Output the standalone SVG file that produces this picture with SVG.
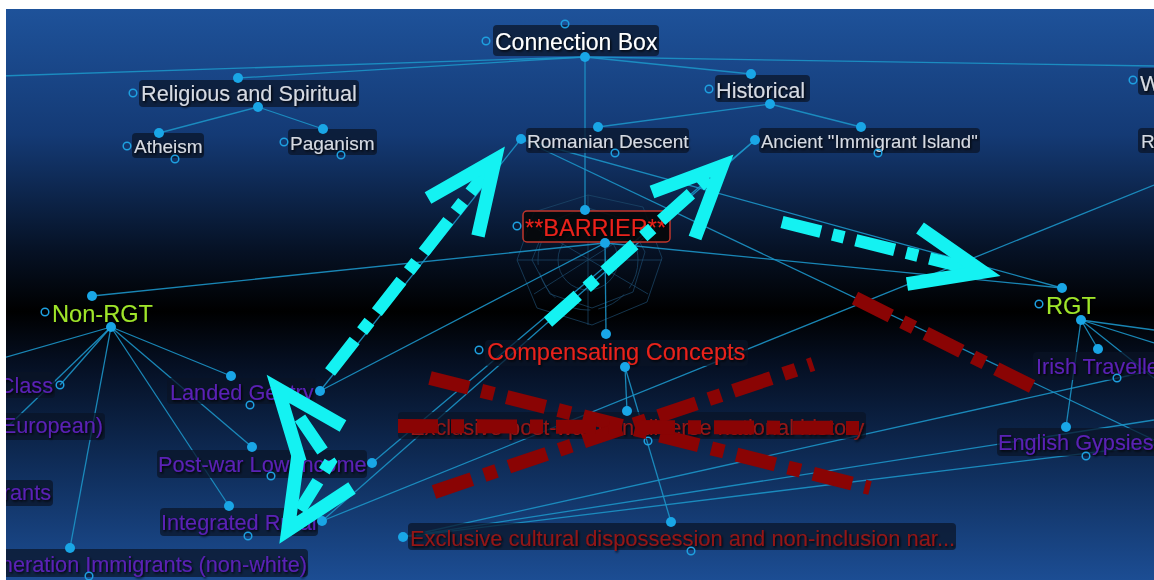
<svg xmlns="http://www.w3.org/2000/svg" width="1154" height="580" viewBox="0 0 1154 580">
  <defs>
    <linearGradient id="bg" x1="0" y1="9" x2="0" y2="580" gradientUnits="userSpaceOnUse">
      <stop offset="0" stop-color="#1e529a"/>
      <stop offset="0.22" stop-color="#143a75"/>
      <stop offset="0.42" stop-color="#061226"/>
      <stop offset="0.53" stop-color="#000000"/>
      <stop offset="0.62" stop-color="#050f22"/>
      <stop offset="0.82" stop-color="#10305f"/>
      <stop offset="1" stop-color="#1c4d93"/>
    </linearGradient>
    <filter id="shadow" x="-5%" y="-20%" width="110%" height="150%">
      <feDropShadow dx="1.2" dy="1.4" stdDeviation="0.9" flood-color="#000000" flood-opacity="0.95"/>
    </filter>
    <style>
      .lbl { font-family: "Liberation Sans", Arial, sans-serif; filter: url(#shadow); }
      .box { fill: #0a1426; fill-opacity: 0.72; }
      .grey { fill: #d6dae2; }
      .white { fill: #ffffff; }
      .purple { fill: #5a20b4; }
      .green { fill: #9fe52a; }
      .red { fill: #e8221a; }
      .dred { fill: #941616; }
      .dot { fill: #19a6e6; }
      .ring { fill: none; stroke: #1ea0e0; stroke-width: 1.5; }
      .link { stroke: #1c93c6; stroke-width: 1.3; fill: none; stroke-opacity: 0.9; }
      .web { stroke: #1d4a6c; stroke-width: 1; fill: none; stroke-opacity: 0.7; }
      .cyan { stroke: #14f2f2; stroke-width: 12.5; fill: none; }
      .cyan-dash { stroke-dasharray: 40 12 12 12; }
      .cyan-head { stroke-width: 13.5; stroke-linejoin: miter; stroke-miterlimit: 10; }
      .maroon { stroke: #8a0404; stroke-width: 14; fill: none; stroke-dasharray: 40 13 13 13; }
      .frame { fill: #ffffff; }
    </style>
  </defs>

  <!-- background -->
  <rect x="0" y="0" width="1154" height="580" fill="url(#bg)"/>

  <!-- faint radial web behind the barrier node -->
  <g id="barrier-web" class="web">
    <circle cx="588" cy="260" r="30"/>
    <circle cx="588" cy="260" r="50" stroke-dasharray="30 8"/>
    <polygon points="588,208 628,220 645,252 633,292 592,308 550,294 532,260 547,222"/>
    <polygon points="588,195 643,207 662,258 647,302 592,325 537,308 517,260 534,212"/>
    <line x1="588" y1="195" x2="588" y2="325"/>
    <line x1="532" y1="226" x2="648" y2="294"/>
    <line x1="534" y1="294" x2="645" y2="224"/>
    <line x1="517" y1="260" x2="662" y2="260"/>
  </g>

  <!-- thin connectors -->
  <g id="connectors">
    <line class="link" x1="0" y1="76" x2="585" y2="57"/>
    <line class="link" x1="238" y1="78" x2="585" y2="57"/>
    <line class="link" x1="585" y1="57" x2="751" y2="74"/>
    <line class="link" x1="585" y1="57" x2="1154" y2="66"/>
    <line class="link" x1="585" y1="57" x2="585" y2="210"/>
    <line class="link" x1="258" y1="107" x2="159" y2="133"/>
    <line class="link" x1="258" y1="107" x2="323" y2="129"/>
    <line class="link" x1="770" y1="104" x2="598" y2="127"/>
    <line class="link" x1="770" y1="104" x2="861" y2="127"/>
    <line class="link" x1="521" y1="139" x2="320" y2="391"/>
    <line class="link" x1="521" y1="139" x2="1062" y2="288"/>
    <line class="link" x1="521" y1="139" x2="1154" y2="440"/>
    <line class="link" x1="605" y1="243" x2="92" y2="296"/>
    <line class="link" x1="605" y1="243" x2="1062" y2="288"/>
    <line class="link" x1="605" y1="243" x2="606" y2="334"/>
    <line class="link" x1="605" y1="243" x2="320" y2="391"/>
    <line class="link" x1="755" y1="140" x2="322" y2="521"/>
    <line class="link" x1="755" y1="140" x2="372" y2="463"/>
    <line class="link" x1="322" y1="521" x2="1154" y2="185"/>
    <line class="link" x1="625" y1="367" x2="627" y2="411"/>
    <line class="link" x1="625" y1="367" x2="671" y2="522"/>
    <line class="link" x1="403" y1="537" x2="1154" y2="370"/>
    <line class="link" x1="403" y1="537" x2="1154" y2="420"/>
    <line class="link" x1="403" y1="537" x2="1154" y2="445"/>
    <line class="link" x1="111" y1="327" x2="0" y2="359"/>
    <line class="link" x1="111" y1="327" x2="60" y2="385"/>
    <line class="link" x1="111" y1="327" x2="0" y2="434"/>
    <line class="link" x1="111" y1="327" x2="231" y2="376"/>
    <line class="link" x1="111" y1="327" x2="252" y2="447"/>
    <line class="link" x1="111" y1="327" x2="229" y2="506"/>
    <line class="link" x1="111" y1="327" x2="70" y2="548"/>
    <line class="link" x1="1081" y1="320" x2="1154" y2="330"/>
    <line class="link" x1="1081" y1="320" x2="1154" y2="343"/>
    <line class="link" x1="1081" y1="320" x2="1098" y2="349"/>
    <line class="link" x1="1081" y1="320" x2="1154" y2="378"/>
    <line class="link" x1="1081" y1="320" x2="1066" y2="427"/>
  </g>

  <!-- nodes -->
  <g id="node-connection-box">
    <rect class="box" x="493" y="25" width="166" height="31" rx="4"/>
    <text class="lbl white" x="495" y="50" font-size="23">Connection Box</text>
    <circle class="ring" cx="486" cy="41" r="3.8"/>
    <circle class="ring" cx="565" cy="24" r="3.8"/>
    <circle class="dot" cx="585" cy="57" r="5"/>
  </g>

  <g id="node-religious">
    <rect class="box" x="139" y="80" width="220" height="27" rx="4"/>
    <text class="lbl grey" x="141" y="101" font-size="21.7">Religious and Spiritual</text>
    <circle class="ring" cx="133" cy="93" r="3.8"/>
    <circle class="dot" cx="238" cy="78" r="5"/>
    <circle class="dot" cx="258" cy="107" r="5"/>
  </g>

  <g id="node-atheism">
    <rect class="box" x="132" y="133" width="72" height="25" rx="4"/>
    <text class="lbl grey" x="134" y="153" font-size="19">Atheism</text>
    <circle class="ring" cx="127" cy="146" r="3.8"/>
    <circle class="ring" cx="175" cy="159" r="3.8"/>
    <circle class="dot" cx="159" cy="133" r="5"/>
  </g>

  <g id="node-paganism">
    <rect class="box" x="288" y="129" width="89" height="26" rx="4"/>
    <text class="lbl grey" x="290" y="150" font-size="19">Paganism</text>
    <circle class="ring" cx="284" cy="142" r="3.8"/>
    <circle class="ring" cx="341" cy="155" r="3.8"/>
    <circle class="dot" cx="323" cy="129" r="5"/>
  </g>

  <g id="node-historical">
    <rect class="box" x="715" y="75" width="95" height="27" rx="4"/>
    <text class="lbl grey" x="716" y="98" font-size="21.7">Historical</text>
    <circle class="ring" cx="709" cy="89" r="3.8"/>
    <circle class="dot" cx="751" cy="74" r="5"/>
    <circle class="dot" cx="770" cy="104" r="5"/>
  </g>

  <g id="node-romanian">
    <rect class="box" x="526" y="128" width="163" height="25" rx="4"/>
    <text class="lbl grey" x="527" y="148" font-size="19">Romanian Descent</text>
    <circle class="dot" cx="521" cy="139" r="5"/>
    <circle class="dot" cx="598" cy="127" r="5"/>
    <circle class="ring" cx="615" cy="153" r="3.8"/>
  </g>

  <g id="node-ancient">
    <rect class="box" x="759" y="128" width="221" height="25" rx="4"/>
    <text class="lbl grey" x="761" y="148" font-size="18.5">Ancient "Immigrant Island"</text>
    <circle class="dot" cx="755" cy="140" r="5"/>
    <circle class="dot" cx="861" cy="127" r="5"/>
    <circle class="ring" cx="878" cy="153" r="3.8"/>
  </g>

  <g id="node-w">
    <rect class="box" x="1138" y="68" width="30" height="27" rx="4"/>
    <text class="lbl grey" x="1140" y="91" font-size="22">W</text>
    <circle class="ring" cx="1133" cy="80" r="3.8"/>
  </g>

  <g id="node-r">
    <rect class="box" x="1138" y="128" width="30" height="25" rx="4"/>
    <text class="lbl grey" x="1141" y="148" font-size="19">R</text>
  </g>

  <g id="node-barrier">
    <rect x="523" y="211" width="147" height="31" rx="4" fill="#060606" fill-opacity="0.85" stroke="#c0362c" stroke-width="1.5"/>
    <text class="lbl red" x="525" y="236" font-size="23.5">**BARRIER**</text>
    <circle class="ring" cx="517" cy="226" r="3.8"/>
    <circle class="dot" cx="585" cy="210" r="5"/>
    <circle class="dot" cx="605" cy="243" r="5"/>
  </g>

  <g id="node-compensating">
    <rect class="box" x="485" y="340" width="263" height="26" rx="4"/>
    <text class="lbl red" x="487" y="360" font-size="23.6">Compensating Concepts</text>
    <circle class="ring" cx="479" cy="350" r="3.8"/>
    <circle class="dot" cx="606" cy="334" r="5"/>
    <circle class="dot" cx="625" cy="367" r="5"/>
  </g>

  <g id="node-exclusive-history">
    <rect class="box" x="398" y="412" width="468" height="27" rx="4"/>
    <text class="lbl dred" x="410" y="435" font-size="21.8">Exclusive post-war non-diverse national history</text>
    <circle class="dot" cx="627" cy="411" r="5"/>
    <circle class="ring" cx="648" cy="441" r="3.8"/>
  </g>

  <g id="node-exclusive-cultural">
    <rect class="box" x="408" y="523" width="548" height="27" rx="4"/>
    <text class="lbl dred" x="410" y="546" font-size="21.9">Exclusive cultural dispossession and non-inclusion nar...</text>
    <circle class="dot" cx="403" cy="537" r="5"/>
    <circle class="dot" cx="671" cy="522" r="5"/>
    <circle class="ring" cx="691" cy="551" r="3.8"/>
  </g>

  <g id="node-non-rgt">
    <text class="lbl green" x="52" y="322" font-size="23.6">Non-RGT</text>
    <circle class="ring" cx="45" cy="312" r="3.8"/>
    <circle class="dot" cx="92" cy="296" r="5"/>
    <circle class="dot" cx="111" cy="327" r="5"/>
  </g>

  <g id="node-rgt">
    <text class="lbl green" x="1046" y="314" font-size="23.6">RGT</text>
    <circle class="ring" cx="1039" cy="304" r="3.8"/>
    <circle class="dot" cx="1062" cy="288" r="5"/>
    <circle class="dot" cx="1081" cy="320" r="5"/>
  </g>

  <g id="node-class">
    <rect class="box" x="0" y="372" width="55" height="26" rx="4"/>
    <text class="lbl purple" x="53" y="393" font-size="21.7" text-anchor="end">Class</text>
    <circle class="ring" cx="60" cy="385" r="3.8"/>
  </g>

  <g id="node-european">
    <rect class="box" x="0" y="413" width="105" height="27" rx="4"/>
    <text class="lbl purple" x="103" y="433" font-size="21.7" text-anchor="end">European)</text>
  </g>

  <g id="node-migrants">
    <rect class="box" x="0" y="480" width="53" height="26" rx="4"/>
    <text class="lbl purple" x="51" y="500" font-size="21.7" text-anchor="end">rants</text>
  </g>

  <g id="node-generation">
    <rect class="box" x="0" y="549" width="308" height="28" rx="4"/>
    <text class="lbl purple" x="307" y="572" font-size="21.7" text-anchor="end">neration Immigrants (non-white)</text>
    <circle class="dot" cx="70" cy="548" r="5"/>
    <circle class="ring" cx="89" cy="576" r="3.8"/>
  </g>

  <g id="node-landed-gentry">
    <rect class="box" x="167" y="378" width="149" height="26" rx="4"/>
    <text class="lbl purple" x="170" y="400" font-size="21.7">Landed Gentry</text>
    <circle class="dot" cx="231" cy="376" r="5"/>
    <circle class="dot" cx="320" cy="391" r="5"/>
    <circle class="ring" cx="250" cy="405" r="3.8"/>
  </g>

  <g id="node-post-war">
    <rect class="box" x="157" y="450" width="210" height="28" rx="4"/>
    <text class="lbl purple" x="158" y="472" font-size="21.7">Post-war Low Income</text>
    <circle class="dot" cx="252" cy="447" r="5"/>
    <circle class="dot" cx="372" cy="463" r="5"/>
    <circle class="ring" cx="271" cy="476" r="3.8"/>
  </g>

  <g id="node-integrated-rural">
    <rect class="box" x="160" y="508" width="158" height="28" rx="4"/>
    <text class="lbl purple" x="161" y="530" font-size="21.7">Integrated Rural</text>
    <circle class="dot" cx="229" cy="506" r="5"/>
    <circle class="dot" cx="322" cy="521" r="5"/>
    <circle class="ring" cx="248" cy="536" r="3.8"/>
  </g>

  <g id="node-irish">
    <rect class="box" x="1033" y="352" width="130" height="28" rx="4"/>
    <text class="lbl purple" x="1036" y="374" font-size="21.7">Irish Travellers</text>
    <circle class="dot" cx="1098" cy="349" r="5"/>
    <circle class="ring" cx="1117" cy="378" r="3.8"/>
  </g>

  <g id="node-english">
    <rect class="box" x="997" y="428" width="165" height="28" rx="4"/>
    <text class="lbl purple" x="998" y="450" font-size="21.7">English Gypsies</text>
    <circle class="dot" cx="1066" cy="427" r="5"/>
    <circle class="ring" cx="1086" cy="456" r="3.8"/>
  </g>

  <!-- heavy annotation arrows -->
  <g id="annotations">
    <!-- maroon dash-dot strokes -->
    <line class="maroon" x1="430" y1="378" x2="870" y2="488"/>
    <line class="maroon" x1="434" y1="492" x2="813" y2="364"/>
    <line class="maroon" x1="398" y1="426" x2="868" y2="428"/>
    <line class="maroon" x1="855" y1="298" x2="1043" y2="392"/>

    <!-- cyan dash-dot arrows with open heads -->
    <line class="cyan cyan-dash" x1="330" y1="372" x2="488" y2="170"/>
    <polyline class="cyan cyan-head" points="428,198 495,160 478,236"/>

    <line class="cyan cyan-dash" x1="548" y1="322" x2="714" y2="173"/>
    <polyline class="cyan cyan-head" points="652,192 722,166 695,238"/>

    <line class="cyan cyan-dash" x1="782" y1="222" x2="972" y2="269"/>
    <polyline class="cyan cyan-head" points="920,228 983,272 907,284"/>

    <path class="cyan cyan-dash" d="M300,418 L330,462 L300,510"/>
    <polyline class="cyan cyan-head" points="343,426 278,389 300,462"/>
    <polyline class="cyan cyan-head" points="352,488 288,530 298,456"/>
  </g>

  <!-- white page margin along the top and left edges -->
  <g id="page-margin">
    <rect class="frame" x="0" y="0" width="1154" height="9"/>
    <rect class="frame" x="0" y="0" width="6" height="580"/>
  </g>
</svg>
